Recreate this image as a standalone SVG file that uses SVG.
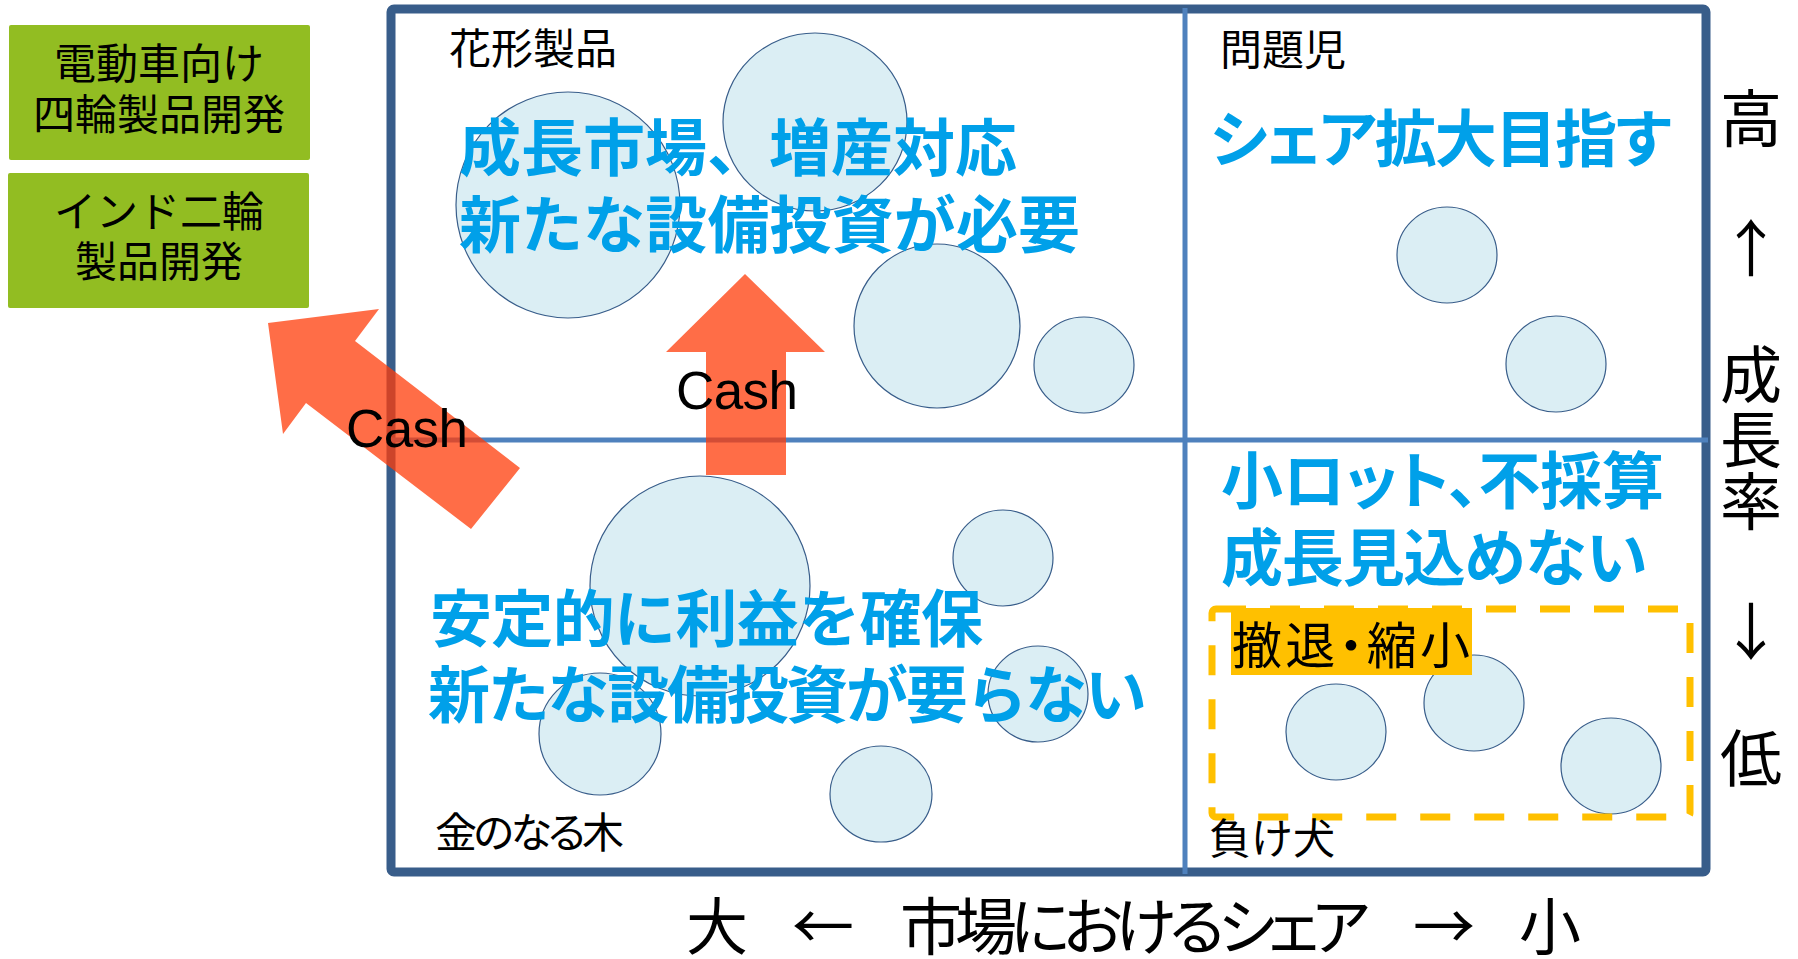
<svg xmlns="http://www.w3.org/2000/svg" width="1798" height="959" viewBox="0 0 1798 959">
<style>
 .jp{font-family:"Noto Sans CJK JP","Noto Sans",sans-serif;}
 .lbl{font-size:42px;fill:#000;}
 .big{font-size:62px;font-weight:700;fill:#00a0e9;}
 .axis{font-size:62px;fill:#000;}
 .bub{fill:#dbeef4;stroke:#385d8a;stroke-width:1.2;}
 .green{fill:#92bd22;}
 .arrow{fill:rgb(255,60,10);fill-opacity:0.75;}
 .cash{font-family:"Liberation Sans",Arial,sans-serif;font-size:53px;fill:#000;}
 .palt{font-feature-settings:"palt";}
</style>
<rect x="0" y="0" width="1798" height="959" fill="#fff"/>

<g id="box-ev">
 <rect class="green" x="9" y="25" width="301" height="135" rx="2"/>
 <text class="jp lbl" x="159" y="79" text-anchor="middle">電動車向け</text>
 <text class="jp lbl" x="159" y="130" text-anchor="middle">四輪製品開発</text>
</g>
<g id="box-india">
 <rect class="green" x="8" y="173" width="301" height="135" rx="2"/>
 <text class="jp lbl" x="159" y="227" text-anchor="middle">インド二輪</text>
 <text class="jp lbl" x="159" y="277" text-anchor="middle">製品開発</text>
</g>

<g id="matrix">
 <rect x="391" y="9" width="1315" height="863" rx="3" fill="none" stroke="#385d8a" stroke-width="9" stroke-linejoin="round"/>
 <line x1="1185" y1="8" x2="1185" y2="874" stroke="#4f81bd" stroke-width="5"/>
 <line x1="391" y1="440" x2="1708" y2="440" stroke="#4f81bd" stroke-width="5"/>
</g>

<g id="q-star">
 <ellipse class="bub" cx="568" cy="205" rx="112" ry="113"/>
 <ellipse class="bub" cx="815" cy="122" rx="92" ry="89"/>
 <ellipse class="bub" cx="937" cy="326" rx="83" ry="82"/>
 <ellipse class="bub" cx="1084" cy="365" rx="50" ry="48"/>
 <text class="jp lbl" x="449" y="64">花形製品</text>
</g>
<g id="q-question">
 <ellipse class="bub" cx="1447" cy="255" rx="50" ry="48"/>
 <ellipse class="bub" cx="1556" cy="364" rx="50" ry="48"/>
 <text class="jp lbl" x="1220" y="65">問題児</text>
</g>
<g id="q-cashcow">
 <ellipse class="bub" cx="700" cy="586" rx="110" ry="110"/>
 <ellipse class="bub" cx="1003" cy="558" rx="50" ry="48"/>
 <ellipse class="bub" cx="1038" cy="694" rx="50" ry="48"/>
 <ellipse class="bub" cx="600" cy="734" rx="61" ry="61"/>
 <ellipse class="bub" cx="881" cy="794" rx="51" ry="48"/>
 <text class="jp lbl palt" x="435" y="848" textLength="189">金のなる木</text>
</g>
<g id="q-dog">
 <ellipse class="bub" cx="1336" cy="732" rx="50" ry="48"/>
 <ellipse class="bub" cx="1474" cy="703" rx="50" ry="48"/>
 <ellipse class="bub" cx="1611" cy="766" rx="50" ry="48"/>
 <rect x="1212" y="609" width="478" height="208" rx="4" fill="none" stroke="#ffc000" stroke-width="7" stroke-dasharray="30 24" stroke-linejoin="round"/>
 <text class="jp lbl" x="1209" y="854">負け犬</text>
</g>

<g id="connectors">
 <polygon class="arrow" points="745,274 825,352 786,352 786,475 706,475 706,352 666,352"/>
 <polygon class="arrow" points="268,323 379,309 355,341 520,468 471,529 306,403 283,434"/>
 <text class="cash" x="676" y="409" textLength="122">Cash</text>
 <text class="cash" x="346" y="447" textLength="122">Cash</text>
</g>

<g id="texts">
 <text class="jp big" x="459" y="171" textLength="558">成長市場、増産対応</text>
 <text class="jp big" x="459" y="248" textLength="621">新たな設備投資が必要</text>
 <text class="jp big palt" x="1210" y="162" textLength="461">シェア拡大目指す</text>
 <text class="jp big palt" x="1221" y="504" textLength="443">小ロット、不採算</text>
 <text class="jp big" x="1221" y="581" textLength="427">成長見込めない</text>
 <text class="jp big" x="430" y="642" textLength="553">安定的に利益を確保</text>
 <text class="jp big" x="428" y="718" textLength="719">新たな設備投資が要らない</text>
</g>

<g id="label-withdraw">
 <rect x="1231" y="608" width="241" height="67" fill="#ffc000"/>
 <text class="jp palt" x="1232" y="664" font-size="50" textLength="238">撤退・縮小</text>
</g>

<g id="axis-y">
 <text class="jp axis" x="1751" y="142" text-anchor="middle">高</text>
 <text class="jp axis" x="1751" y="272" text-anchor="middle">↑</text>
 <text class="jp axis" x="1751" y="398" text-anchor="middle">成</text>
 <text class="jp axis" x="1751" y="463" text-anchor="middle">長</text>
 <text class="jp axis" x="1751" y="525" text-anchor="middle">率</text>
 <text class="jp axis" x="1751" y="655" text-anchor="middle">↓</text>
 <text class="jp axis" x="1751" y="782" text-anchor="middle">低</text>
</g>
<g id="axis-x">
 <text class="jp axis" x="686" y="950">大</text>
 <text class="jp axis" x="823" y="950" text-anchor="middle">←</text>
 <text class="jp axis palt" x="900" y="950" textLength="470">市場におけるシェア</text>
 <text class="jp axis" x="1444" y="950" text-anchor="middle">→</text>
 <text class="jp axis" x="1550" y="950" text-anchor="middle">小</text>
</g>
</svg>
